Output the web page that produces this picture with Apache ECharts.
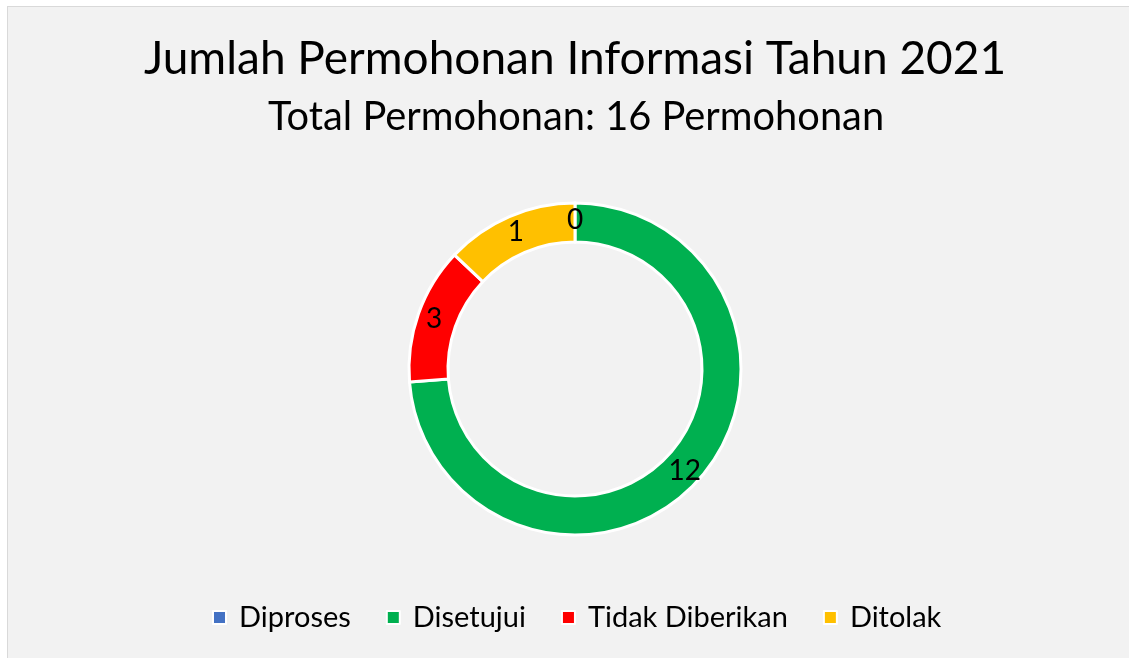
<!DOCTYPE html>
<html>
<head>
<meta charset="utf-8">
<script src="https://cdn.jsdelivr.net/npm/echarts@6/dist/echarts.min.js"></script>
<style>
html,body{margin:0;padding:0;background:#ffffff;}
#frame{position:absolute;left:7px;top:6px;width:1140px;height:670px;background:#f2f2f2;border:1.5px solid #d9d9d9;box-sizing:border-box;}
#chart{position:absolute;left:0;top:0;width:1129px;height:658px;}
</style>
</head>
<body>
<div id="frame"></div>
<div id="chart"></div>
<script>
const titleText = 'Jumlah Permohonan Informasi Tahun 2021';
const subtitleText = 'Total Permohonan: 16 Permohonan';
const categories = ['Diproses', 'Disetujui', 'Tidak Diberikan', 'Ditolak'];
// values printed on the slices
const values = [0, 12, 3, 1];
// slice sizes as drawn in the reference (arcs are not proportional to the printed values)
const arcSizes = [0, 11.8, 2.13, 2.07];
const colors = ['#4472c4', '#00b050', '#ff0000', '#ffc000'];

const FONT = 'Lato, "Open Sans", sans-serif';
const chart = echarts.init(document.getElementById('chart'), null, {renderer: 'canvas'});
chart.setOption({
  backgroundColor: 'transparent',
  animation: false,
  title: [
    {text: titleText, left: 570, top: 31, textAlign: 'center',
     textStyle: {fontFamily: FONT, fontWeight: 'normal', fontSize: 46, color: '#000'}},
    {text: subtitleText, left: 571, top: 92, textAlign: 'center',
     textStyle: {fontFamily: FONT, fontWeight: 'normal', fontSize: 39.8, color: '#000'}}
  ],
  legend: {
    data: categories,
    bottom: 21,
    left: 207,
    icon: 'rect',
    itemWidth: 13,
    itemHeight: 13,
    itemGap: 35,
    textStyle: {fontFamily: FONT, fontSize: 29, color: '#000', padding: [0, 0, 0, 8]},
    itemStyle: {borderColor: '#fff', borderWidth: 2}
  },
  series: [{
    type: 'pie',
    center: [575, 369],
    radius: [127, 166],
    startAngle: 90,
    clockwise: true,
    stillShowZeroSum: true,
    avoidLabelOverlap: false,
    itemStyle: {borderColor: '#fff', borderWidth: 3},
    label: {show: true, position: 'inside', formatter: p => String(values[p.dataIndex]),
            fontFamily: FONT, fontSize: 28, color: '#000'},
    labelLine: {show: false},
    emphasis: {disabled: true},
    data: categories.map((c, i) => ({name: c, value: arcSizes[i], itemStyle: {color: colors[i]}}))
  }]
});
</script>
</body>
</html>
